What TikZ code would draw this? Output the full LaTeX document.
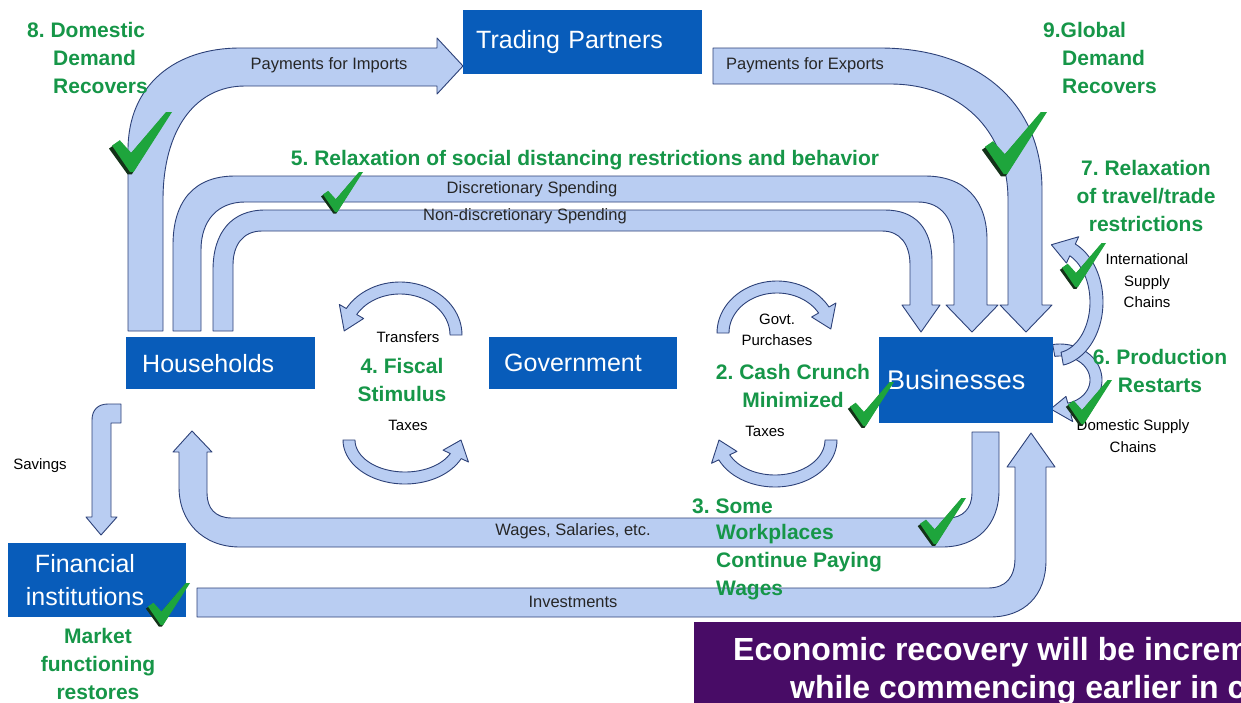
\documentclass[tikz,border=0pt]{standalone}
\usepackage{fontspec}
\setmainfont{Liberation Sans}
\frenchspacing
\definecolor{bandfill}{RGB}{185,205,242}
\definecolor{bandline}{RGB}{45,65,120}
\definecolor{boxblue}{RGB}{8,92,186}
\definecolor{grn}{RGB}{22,150,72}
\definecolor{chkgreen}{RGB}{30,165,60}
\definecolor{chkdark}{RGB}{20,50,25}
\definecolor{purp}{RGB}{72,12,102}
\tikzset{
 band/.style={fill=bandfill, draw=bandline, line width=0.9pt, line join=round},
 boxst/.style={fill=boxblue, text=white, font=\fontsize{25}{30}\selectfont, inner ysep=0pt, anchor=north west, align=left},
 lbl/.style={font=\fontsize{16.5}{19}\selectfont, text=black!85, inner sep=0pt},
 sml/.style={font=\fontsize{15}{21.5}\selectfont, text=black, inner sep=0pt, align=center},
 grntxt/.style={font=\bfseries\fontsize{21}{28}\selectfont, text=grn, inner sep=0pt, align=center},
}
% arc block arrow: cx, cy, Rx, Ry, width, start angle, head-base angle, tip angle, head overhang
\newcommand{\arcarrow}[9]{%
 \draw[band] plot[domain=#6:#7,samples=40,variable=\t] ({#1+#3*cos(\t)},{#2+#4*sin(\t)})
  -- ({#1+(#3+#9)*cos(#7)},{#2+(#4+#9)*sin(#7)})
  -- ({#1+(#3-#5/2)*cos(#8)},{#2+(#4-#5/2)*sin(#8)})
  -- ({#1+(#3-#5-#9)*cos(#7)},{#2+(#4-#5-#9)*sin(#7)})
  -- plot[domain=#7:#6,samples=40,variable=\t] ({#1+(#3-#5)*cos(\t)},{#2+(#4-#5)*sin(\t)})
  -- cycle;}
% check mark: top-left x, y, size
\newcommand{\chkmark}[3]{%
 \begin{scope}[shift={(#1,#2)},x=#3pt,y=-#3pt]
  \fill[chkdark] (-0.05,0.61) -- (0.09,0.51) -- (0.28,0.73) -- (0.87,0.05) -- (0.96,0.03) -- (0.33,1.04) -- (0.26,1.04) -- cycle;
  \fill[chkgreen] (0,0.56) -- (0.13,0.47) -- (0.32,0.68) -- (0.9,0.0) -- (1,0) -- (0.36,1.0) -- (0.30,1.0) -- cycle;
 \end{scope}}
\begin{document}
\begin{tikzpicture}[x=1pt,y=-1pt]
\useasboundingbox (0,0) rectangle (1241,702);
\clip (0,0) rectangle (1241,702);
\fill[white] (0,0) rectangle (1241,702);

% ---- block arrows ----
% payments for imports
\draw[band] (128,331) -- (128,150) .. controls (128,85) and (175,48) .. (240,48) -- (437,48) -- (437,38) -- (463,66) -- (437,94) -- (437,86) -- (245,86) .. controls (195,86) and (163,130) .. (163,200) -- (163,331) -- cycle;
% payments for exports
\draw[band] (713,48) -- (880,48) .. controls (975,48) and (1042,100) .. (1042,190) -- (1042,305) -- (1052,305) -- (1026,332) -- (1000,305) -- (1008,305) -- (1008,200) .. controls (1008,130) and (960,84) .. (890,84) -- (713,84) -- cycle;
% discretionary spending
\draw[band] (173,331) -- (173,245) .. controls (173,200) and (195,176) .. (235,176) -- (925,176) .. controls (965,176) and (987,200) .. (987,240) -- (987,305) -- (998,305) -- (972,332) -- (946,305) -- (954,305) -- (954,245) .. controls (954,220) and (942,202) .. (918,202) -- (245,202) .. controls (218,202) and (201,220) .. (201,250) -- (201,331) -- cycle;
% non-discretionary spending
\draw[band] (213,331) -- (213,270) .. controls (213,232) and (232,210) .. (265,210) -- (885,210) .. controls (915,210) and (932,228) .. (932,262) -- (932,305) -- (940,305) -- (921,332) -- (902,305) -- (910,305) -- (910,265) .. controls (910,244) and (900,231) .. (882,231) -- (262,231) .. controls (243,231) and (233,245) .. (233,265) -- (233,331) -- cycle;
% wages
\draw[band] (972,432) -- (999,432) -- (999,490) .. controls (999,525) and (977,547) .. (942,547) -- (240,547) .. controls (203,547) and (179,522) .. (179,487) -- (179,452) -- (173,452) -- (192,431) -- (212,452) -- (207,452) -- (207,493) .. controls (207,508) and (215,518) .. (232,518) -- (948,518) .. controls (963,518) and (972,508) .. (972,493) -- cycle;
% investments
\draw[band] (197,588) -- (988,588) .. controls (1006,588) and (1015,577) .. (1015,558) -- (1015,467) -- (1007,467) -- (1031,433) -- (1055,467) -- (1046,467) -- (1046,560) .. controls (1046,596) and (1024,617) .. (990,617) -- (197,617) -- cycle;
% savings
\draw[band] (121,404) -- (121,423) -- (111,423) -- (111,517) -- (117,517) -- (101,535) -- (86,517) -- (92,517) -- (92,420) .. controls (92,410) and (98,404) .. (108,404) -- cycle;

% circular arrows
\arcarrow{400}{335}{62}{53}{12}{0}{-150}{-175}{8}
\arcarrow{405}{440}{62}{44}{12}{180}{25}{0}{8}
\arcarrow{777}{333}{60}{52}{12}{180}{330}{355}{8}
\arcarrow{775}{440}{62}{47}{12}{0}{155}{180}{8}
\arcarrow{1060}{380}{42}{36}{12}{-100}{75}{105}{7}
\arcarrow{1055}{302}{48}{64}{13}{80}{-65}{-95}{8}

% ---- boxes ----
\node[boxst, minimum width=239pt, minimum height=64pt, text width=213pt, inner xsep=13pt] (tp) at (463,10) {Trading Partners};
\node[boxst, minimum width=189pt, minimum height=52pt, text width=157pt, inner xsep=16pt] (hh) at (126,337) {Households};
\node[boxst, minimum width=188pt, minimum height=52pt, text width=158pt, inner xsep=15pt] (gov) at (489,337) {Government};
\node[boxst, minimum width=174pt, minimum height=86pt, text width=158pt, inner xsep=8pt, font=\fontsize{27}{32}\selectfont] (bus) at (879,337) {Businesses};
\node[fill=boxblue, minimum width=178pt, minimum height=74pt, anchor=north west, inner sep=0pt] (fin) at (8,543) {};
\node[text=white, font=\fontsize{25}{33}\selectfont, align=center, inner sep=0pt] (fint) at (85,580) {Financial\\institutions};

% ---- flow labels ----
\node[lbl] (limp) at (329,65) {Payments for Imports};
\node[lbl] (lexp) at (805,65) {Payments for Exports};
\node[lbl] (ldis) at (532,189) {Discretionary Spending};
\node[lbl] (lnon) at (525,216) {Non-discretionary Spending};
\node[lbl] (lwag) at (573,531) {Wages, Salaries, etc.};
\node[lbl] (linv) at (573,602) {Investments};
\node[sml] (lsav) at (40,466) {Savings};
\node[sml] (ltra) at (408,337) {Transfers};
\node[sml] (ltx1) at (408,425) {Taxes};
\node[sml] (lgov) at (777,330) {Govt.\\Purchases};
\node[sml] (ltx2) at (765,431) {Taxes};
\node[sml] (lint) at (1147,281) {International\\Supply\\Chains};
\node[sml] (ldom) at (1133,436) {Domestic Supply\\Chains};

% ---- green labels ----
\node[grntxt, anchor=west] (g8a) at (27,30) {8. Domestic};
\node[grntxt, anchor=west] (g8b) at (53,58) {Demand};
\node[grntxt, anchor=west] (g8c) at (53,86) {Recovers};
\node[grntxt, anchor=west] (g9a) at (1043,30) {9.Global};
\node[grntxt, anchor=west] (g9b) at (1062,58) {Demand};
\node[grntxt, anchor=west] (g9c) at (1062,86) {Recovers};
\node[grntxt] (g5) at (585,160) {5. Relaxation of social distancing restrictions and behavior};
\node[grntxt] (g7) at (1146,196) {7. Relaxation\\of travel/trade\\restrictions};
\node[grntxt] (g6) at (1160,371) {6. Production\\Restarts};
\node[grntxt] (g2) at (793,386) {2. Cash Crunch\\Minimized};
\node[grntxt] (g4) at (402,380) {4. Fiscal\\Stimulus};
\node[grntxt, anchor=west] (g3a) at (692,506) {3. Some};
\node[grntxt, anchor=west] (g3b) at (716,534) {Workplaces};
\node[grntxt, anchor=west] (g3c) at (716,562) {Continue Paying};
\node[grntxt, anchor=west] (g3d) at (716,590) {Wages};
\node[grntxt] (gm) at (98,664) {Market\\functioning\\restores};

% ---- check marks ----
\chkmark{112}{112}{60}
\chkmark{323}{172}{40}
\chkmark{985}{112}{62}
\chkmark{1062}{243}{44}
\chkmark{1068}{380}{44}
\chkmark{850}{382}{44}
\chkmark{920}{498}{46}
\chkmark{148}{583}{42}

% ---- bottom banner ----
\node[fill=purp, minimum width=560pt, minimum height=90pt, anchor=north west, inner sep=0pt] (ban) at (694,622) {};
\node[text=white, font=\bfseries\fontsize{32}{38}\selectfont, anchor=west, inner sep=0pt] (ban1) at (733,652) {Economic recovery will be incremental};
\node[text=white, font=\bfseries\fontsize{32}{38}\selectfont, anchor=west, inner sep=0pt] (ban2) at (790,690) {while commencing earlier in c};
\end{tikzpicture}
\end{document}
